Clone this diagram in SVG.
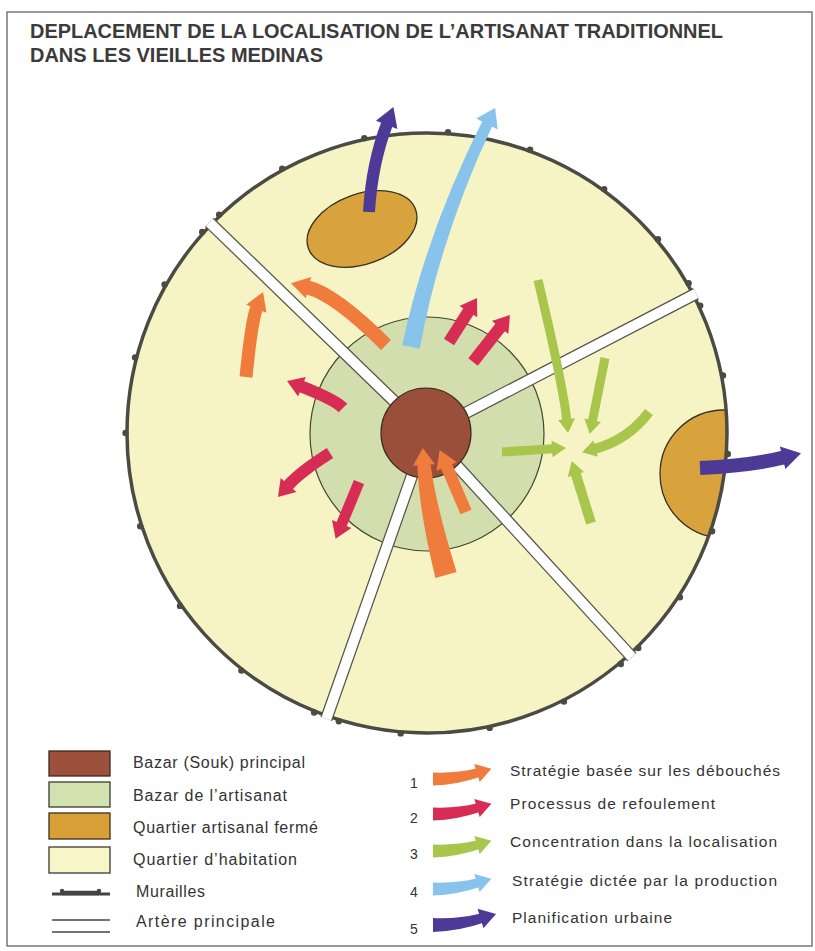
<svg xmlns="http://www.w3.org/2000/svg" width="815" height="951" viewBox="0 0 815 951">
<defs>
<style>
.t{font-family:"Liberation Sans",Arial,Helvetica,sans-serif;fill:#333}
.ttl{font-family:"Liberation Sans",Arial,Helvetica,sans-serif;font-weight:bold;fill:#3b3b3b;font-size:19.5px}
.lg{font-size:16px}
.lr{font-size:15.5px}
.num{font-size:14px}
.dot{fill:#4b4b43}
.rd{stroke:#55554c;stroke-width:12.5;fill:none}
.rw{stroke:#ffffff;stroke-width:10;fill:none}
.ao{fill:none;stroke:#ef7b3c}
.ar{fill:none;stroke:#d72d55}
.ag{fill:none;stroke:#a9c64c}
.ap{fill:none;stroke:#4d3a96}
</style>
<clipPath id="disc"><circle cx="427" cy="433" r="300"/></clipPath>
<marker id="mO" markerUnits="userSpaceOnUse" viewBox="-1 -11 19 22" refX="0" refY="0" markerWidth="19" markerHeight="22" orient="auto" overflow="visible"><path d="M-1,-11 L17,0 L-1,11 Z" fill="#ef7b3c"/></marker>
<marker id="mR" markerUnits="userSpaceOnUse" viewBox="-1 -10.5 17 21" refX="0" refY="0" markerWidth="17" markerHeight="21" orient="auto" overflow="visible"><path d="M-1,-10.5 L15,0 L-1,10.5 Z" fill="#d72d55"/></marker>
<marker id="mG" markerUnits="userSpaceOnUse" viewBox="-1 -8.5 15 17" refX="0" refY="0" markerWidth="15" markerHeight="17" orient="auto" overflow="visible"><path d="M-1,-8.5 L13,0 L-1,8.5 Z" fill="#a9c64c"/></marker>
<marker id="mP" markerUnits="userSpaceOnUse" viewBox="-1 -11.5 20 23" refX="0" refY="0" markerWidth="20" markerHeight="23" orient="auto" overflow="visible"><path d="M-1,-11.5 L18,0 L-1,11.5 Z" fill="#4d3a96"/></marker>
<path id="legArrow" d="M0,-6.5 Q23.3,-5.5 44.1,-10.7 L46.7,-2.1 Q24.7,5.5 0,6.5 Z M41.3,-15.1 L58.4,-10.3 L46.7,3.1 Z"/>
</defs>

<rect x="0" y="0" width="815" height="951" fill="#ffffff"/>
<rect id="frame" x="7" y="12" width="805" height="934" fill="none" stroke="#555" stroke-width="1.2"/>

<g id="title">
<text class="ttl" x="30" y="38" textLength="693" lengthAdjust="spacingAndGlyphs">DEPLACEMENT DE LA LOCALISATION DE L’ARTISANAT TRADITIONNEL</text>
<text class="ttl" x="30" y="62" textLength="293" lengthAdjust="spacingAndGlyphs">DANS LES VIEILLES MEDINAS</text>
</g>

<g id="medina">
<circle id="quartier-habitation" cx="427" cy="433" r="300" fill="#f6f4c4"/>
<g id="quartier-ferme-est" clip-path="url(#disc)"><circle cx="724" cy="474" r="64" fill="#d8a23c" stroke="#3a3020" stroke-width="1.3"/></g>
<ellipse id="quartier-ferme-nord" cx="362" cy="229" rx="57" ry="35" transform="rotate(-20 362 229)" fill="#d8a23c" stroke="#3a3020" stroke-width="1.3"/>
<circle id="bazar-artisanat" cx="427" cy="434" r="117" fill="#d3deae" stroke="#3f4a30" stroke-width="1.2"/>
<circle id="murailles" cx="427" cy="433" r="300" fill="none" stroke="#4b4b43" stroke-width="3.5"/>
<g id="arteres">
<line class="rd" x1="427" y1="433" x2="209.3" y2="222.3"/>
<line class="rd" x1="427" y1="433" x2="696" y2="293.6"/>
<line class="rd" x1="427" y1="433" x2="631.9" y2="657.1"/>
<line class="rd" x1="427" y1="433" x2="326.3" y2="718.8"/>
<line class="rw" x1="427" y1="433" x2="209.3" y2="222.3"/>
<line class="rw" x1="427" y1="433" x2="696" y2="293.6"/>
<line class="rw" x1="427" y1="433" x2="631.9" y2="657.1"/>
<line class="rw" x1="427" y1="433" x2="326.3" y2="718.8"/>
</g>
<g id="murailles-tours">
<circle class="dot" cx="723" cy="375.5" r="3.2"/>
<circle class="dot" cx="727.8" cy="454" r="3.2"/>
<circle class="dot" cx="712.1" cy="531.2" r="3.2"/>
<circle class="dot" cx="679.9" cy="597.2" r="3.2"/>
<circle class="dot" cx="638.3" cy="648.1" r="3.2"/>
<circle class="dot" cx="620.8" cy="664" r="3.2"/>
<circle class="dot" cx="563.9" cy="701.6" r="3.2"/>
<circle class="dot" cx="489.7" cy="727.9" r="3.2"/>
<circle class="dot" cx="400.7" cy="733.4" r="3.2"/>
<circle class="dot" cx="338.8" cy="721.3" r="3.2"/>
<circle class="dot" cx="314.1" cy="712.5" r="3.2"/>
<circle class="dot" cx="241.4" cy="670.6" r="3.2"/>
<circle class="dot" cx="180" cy="605.9" r="3.2"/>
<circle class="dot" cx="140.2" cy="526.2" r="3.2"/>
<circle class="dot" cx="125.5" cy="433" r="3.2"/>
<circle class="dot" cx="135.1" cy="357.5" r="3.2"/>
<circle class="dot" cx="164.6" cy="284.5" r="3.2"/>
<circle class="dot" cx="202.2" cy="232" r="3.2"/>
<circle class="dot" cx="219.1" cy="214.6" r="3.2"/>
<circle class="dot" cx="282.2" cy="168.6" r="3.2"/>
<circle class="dot" cx="364.3" cy="138.1" r="3.2"/>
<circle class="dot" cx="448" cy="132.2" r="3.2"/>
<circle class="dot" cx="530.1" cy="149.7" r="3.2"/>
<circle class="dot" cx="604.2" cy="189.1" r="3.2"/>
<circle class="dot" cx="658" cy="239.2" r="3.2"/>
<circle class="dot" cx="688.6" cy="283.2" r="3.2"/>
<circle class="dot" cx="700.2" cy="305.6" r="3.2"/>
</g>
<circle id="souk" cx="426" cy="433" r="45" fill="#9a4f3a" stroke="#3a2a20" stroke-width="1.2"/>
</g>

<g id="connectors">
<!-- 1 orange -->
<path class="ao" stroke-width="14" d="M386,345 Q335.3,294.3 307.5,287.4" marker-end="url(#mO)"/>
<path class="ao" stroke-width="13" d="M246,377 Q251.6,320.5 256.7,307.8" marker-end="url(#mO)"/>
<path fill="#ef7b3c" d="M435.4,577.9 Q418.4,507.7 417.4,464 L430.4,463 Q435.6,504.3 456.6,572.1 Z M413,465.8 L422.8,448.1 L435,464.2 Z"/>
<path class="ao" stroke-width="12" d="M466,512 L446.3,465.6" marker-end="url(#mO)"/>
<!-- 2 red -->
<path class="ar" stroke-width="12" d="M449,342 L468.9,310.7" marker-end="url(#mR)"/>
<path class="ar" stroke-width="12" d="M473,362 L500.7,326.8" marker-end="url(#mR)"/>
<path class="ar" stroke-width="12" d="M343,408 Q334.3,399.3 301,386.4" marker-end="url(#mR)"/>
<path class="ar" stroke-width="12" d="M330,453 Q300,472 287.9,485.7" marker-end="url(#mR)"/>
<path class="ar" stroke-width="11" d="M359,482 L341.3,525" marker-end="url(#mR)"/>
<!-- 3 green -->
<path class="ag" stroke-width="9" d="M538,280 Q563.4,387 566.7,420.1" marker-end="url(#mG)"/>
<path class="ag" stroke-width="9" d="M605,358 L592.4,421.2" marker-end="url(#mG)"/>
<path class="ag" stroke-width="10" d="M649,412 Q628.1,439.9 594.6,448.9" marker-end="url(#mG)"/>
<path class="ag" stroke-width="9" d="M502,452 L553,448.8" marker-end="url(#mG)"/>
<path class="ag" stroke-width="10" d="M591,523 L575.6,473.5" marker-end="url(#mG)"/>
<!-- 4 blue -->
<path fill="#88c3ec" d="M402.2,345.2 Q426.1,232.7 482.8,120.2 L492.6,125.2 Q439.9,237.3 419.8,348.8 Z M476.3,118.6 L495.1,107.9 L497.7,129.4 Z"/>
<!-- 5 purple -->
<path class="ap" stroke-width="12" d="M369,212 Q371.9,163.5 387,123.9" marker-end="url(#mP)"/>
<path class="ap" stroke-width="14" d="M700,468 Q751.7,465.4 783.6,457.5" marker-end="url(#mP)"/>
</g>

<g id="legende-zones">
<rect x="49" y="751" width="61" height="25" fill="#9d513c" stroke="#3a2a20" stroke-width="1.3"/>
<rect x="49" y="782" width="61" height="25" fill="#d1e1b0" stroke="#3a3a30" stroke-width="1.3"/>
<rect x="49" y="813" width="61" height="26" fill="#d9a038" stroke="#3a3020" stroke-width="1.3"/>
<rect x="49" y="847" width="61" height="26" fill="#f8f6c8" stroke="#3a3a30" stroke-width="1.3"/>
<line x1="52" y1="894" x2="110" y2="894" stroke="#444" stroke-width="3"/>
<line x1="62" y1="893" x2="99" y2="893" stroke="#444" stroke-width="4.5"/>
<circle cx="62" cy="891" r="2.2" fill="#444"/>
<circle cx="99" cy="891" r="2.2" fill="#444"/>
<line x1="52" y1="920" x2="110" y2="920" stroke="#444" stroke-width="1.4"/>
<line x1="52" y1="932" x2="110" y2="932" stroke="#444" stroke-width="1.4"/>
<text class="t lg" x="133" y="768" textLength="172">Bazar (Souk) principal</text>
<text class="t lg" x="133" y="801" textLength="154">Bazar de l’artisanat</text>
<text class="t lg" x="133" y="833" textLength="185">Quartier artisanal fermé</text>
<text class="t lg" x="133" y="865" textLength="164">Quartier d’habitation</text>
<text class="t lg" x="136" y="897" textLength="69">Murailles</text>
<text class="t lg" x="136" y="927" textLength="139">Artère principale</text>
</g>

<g id="legende-fleches">
<text class="t num" x="410" y="788">1</text>
<text class="t num" x="410" y="823">2</text>
<text class="t num" x="410" y="859">3</text>
<text class="t num" x="410" y="897">4</text>
<text class="t num" x="410" y="934">5</text>
<use href="#legArrow" transform="translate(433,779)" fill="#ef7b3c"/>
<use href="#legArrow" transform="translate(433,814)" fill="#d72d55"/>
<use href="#legArrow" transform="translate(433,851)" fill="#a9c64c"/>
<use href="#legArrow" transform="translate(433,889)" fill="#88c3ec"/>
<use href="#legArrow" transform="translate(433,925) scale(1.08)" fill="#4d3a96"/>
<text class="t lr" x="510" y="776" textLength="270">Stratégie basée sur les débouchés</text>
<text class="t lr" x="510" y="809" textLength="205">Processus de refoulement</text>
<text class="t lr" x="510" y="847" textLength="267">Concentration dans la localisation</text>
<text class="t lr" x="512" y="886" textLength="265">Stratégie dictée par la production</text>
<text class="t lr" x="512" y="923" textLength="160">Planification urbaine</text>
</g>
</svg>
